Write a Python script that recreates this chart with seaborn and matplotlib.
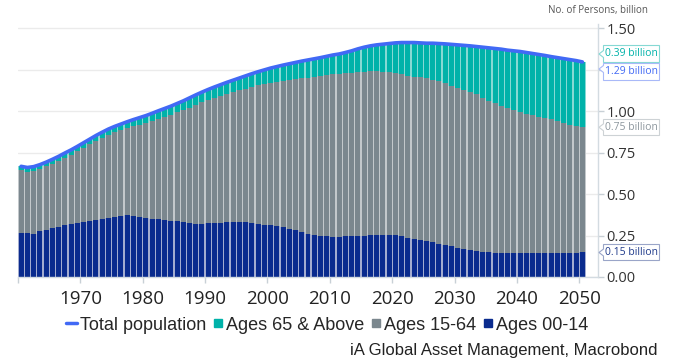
import matplotlib
matplotlib.use("Agg")
import matplotlib.pyplot as plt
import numpy as np
import pandas as pd
import seaborn as sns
from matplotlib.lines import Line2D
from matplotlib.patches import Polygon
from matplotlib.font_manager import FontProperties

# ---------------- data (billion persons) ----------------
years = list(range(1960, 2051))

ages_00_14 = [
    0.268, 0.263, 0.262, 0.276, 0.286, 0.294, 0.304, 0.312, 0.318, 0.326,
    0.334, 0.340, 0.346, 0.351, 0.355, 0.360, 0.367, 0.373, 0.371, 0.365,
    0.357, 0.352, 0.348, 0.345, 0.341, 0.336, 0.330, 0.326, 0.322, 0.322,
    0.323, 0.325, 0.328, 0.331, 0.332, 0.331, 0.329, 0.325, 0.320, 0.316,
    0.312, 0.307, 0.300, 0.291, 0.281, 0.270, 0.260, 0.253, 0.249, 0.246,
    0.244, 0.244, 0.246, 0.248, 0.250, 0.250, 0.252, 0.254, 0.256, 0.256,
    0.252, 0.246, 0.238, 0.231, 0.225, 0.219, 0.209, 0.201, 0.195, 0.185,
    0.177, 0.169, 0.163, 0.157, 0.153, 0.149, 0.147, 0.147, 0.147, 0.147,
    0.147, 0.147, 0.147, 0.147, 0.147, 0.147, 0.147, 0.147, 0.147, 0.147,
    0.148,
]

ages_15_64 = [
    0.375, 0.373, 0.379, 0.377, 0.382, 0.390, 0.398, 0.409, 0.421, 0.433,
    0.446, 0.461, 0.476, 0.490, 0.503, 0.513, 0.518, 0.525, 0.538, 0.554,
    0.572, 0.590, 0.607, 0.622, 0.638, 0.657, 0.677, 0.697, 0.717, 0.732,
    0.745, 0.756, 0.765, 0.774, 0.784, 0.795, 0.808, 0.822, 0.836, 0.848,
    0.860, 0.871, 0.884, 0.898, 0.913, 0.929, 0.943, 0.954, 0.963, 0.972,
    0.980, 0.983, 0.984, 0.986, 0.988, 0.990, 0.990, 0.988, 0.984, 0.982,
    0.982, 0.980, 0.978, 0.979, 0.981, 0.981, 0.983, 0.981, 0.974, 0.968,
    0.962, 0.958, 0.952, 0.946, 0.930, 0.916, 0.902, 0.886, 0.870, 0.858,
    0.848, 0.838, 0.829, 0.821, 0.813, 0.805, 0.795, 0.783, 0.773, 0.763,
    0.756,
]

ages_65_up = [
    0.025, 0.025, 0.025, 0.025, 0.025, 0.026, 0.026, 0.027, 0.028, 0.029,
    0.030, 0.031, 0.032, 0.033, 0.035, 0.036, 0.038, 0.039, 0.041, 0.043,
    0.045, 0.046, 0.048, 0.050, 0.052, 0.054, 0.056, 0.058, 0.060, 0.062,
    0.064, 0.066, 0.068, 0.070, 0.072, 0.075, 0.077, 0.080, 0.083, 0.086,
    0.089, 0.092, 0.095, 0.098, 0.101, 0.104, 0.107, 0.110, 0.112, 0.114,
    0.116, 0.119, 0.125, 0.131, 0.139, 0.147, 0.153, 0.159, 0.165, 0.171,
    0.179, 0.189, 0.199, 0.205, 0.207, 0.211, 0.219, 0.227, 0.238, 0.251,
    0.262, 0.271, 0.280, 0.288, 0.304, 0.318, 0.330, 0.342, 0.352, 0.360,
    0.366, 0.370, 0.373, 0.375, 0.377, 0.378, 0.382, 0.388, 0.392, 0.396,
    0.394,
]

series_names = ["Total population", "Ages 65 & Above", "Ages 15-64", "Ages 00-14"]
xtick_years = [1960, 1970, 1980, 1990, 2000, 2010, 2020, 2030, 2040, 2050]
xtick_labels = ["", "1970", "1980", "1990", "2000", "2010", "2020", "2030", "2040", "2050"]
ytick_values = [0.0, 0.25, 0.50, 0.75, 1.00, 1.25, 1.50]
ytick_labels = ["0.00", "0.25", "0.50", "0.75", "1.00", "", "1.50"]  # 1.25 hidden by callouts
end_labels = ["0.39 billion", "1.29 billion", "0.75 billion", "0.15 billion"]
y_title = "No. of Persons, billion"
source_text = "iA Global Asset Management, Macrobond"

# ---------------- styling ----------------
C_TEAL, C_GRAY, C_NAVY, C_BLUE = "#00b2a9", "#7b878e", "#0a2b8e", "#4169f5"
L_TEAL, L_GRAY, L_NAVY = "#86d9d4", "#c3c8cb", "#a3acd0"

sns.set_theme(style="white")
plt.rcParams["font.family"] = ["Open Sans", "DejaVu Sans"]

W, H = 673, 360
fig = plt.figure(figsize=(W / 100, H / 100), dpi=100)
ax = fig.add_axes([18 / W, (H - 277) / H, (598 - 18) / W, (277 - 23.5) / H])

df = pd.DataFrame({
    "year": years,
    "a0014": ages_00_14,
    "a1564": ages_15_64,
    "a65": ages_65_up,
})
df["xmid"] = df["year"] + 0.5
df["cum1"] = df["a0014"]
df["cum2"] = df["a0014"] + df["a1564"]
df["cum3"] = df["cum2"] + df["a65"]
df["total"] = df["cum3"]

common = dict(data=df, x="xmid", native_scale=True, orient="x",
              saturation=1, errorbar=None, ax=ax, linewidth=0)
# light backdrop (visible in the gaps between bars)
for col, c in (("cum3", L_TEAL), ("cum2", L_GRAY), ("cum1", L_NAVY)):
    sns.barplot(y=col, color=c, width=1.0, **common)
# solid bars
for col, c in (("cum3", C_TEAL), ("cum2", C_GRAY), ("cum1", C_NAVY)):
    sns.barplot(y=col, color=c, width=0.8, **common)

sns.lineplot(data=df, x="xmid", y="total", color=C_BLUE, linewidth=2.6,
             ax=ax, zorder=6, solid_capstyle="round")

ax.set_xlim(1960, 2053)
ax.set_ylim(0, 1.53)
ax.set_xticks(xtick_years)
ax.set_xticklabels(xtick_labels)
ax.yaxis.tick_right()
ax.set_yticks(ytick_values)
ax.set_yticklabels(ytick_labels)
ax.set_xlabel("")
ax.set_ylabel("")
ax.grid(axis="y", color="#ebebeb", linewidth=1)
ax.grid(axis="x", visible=False)
ax.set_axisbelow(True)
for s in ("top", "left"):
    ax.spines[s].set_visible(False)
for s in ("right", "bottom"):
    ax.spines[s].set_color("#d3dbe1")
    ax.spines[s].set_linewidth(1)
ax.tick_params(axis="x", length=4, width=1, color="#c8d0d6", labelsize=13.5,
               pad=5, labelcolor="#222222", bottom=True)
ax.tick_params(axis="y", length=4, width=1, color="#c8d0d6", labelsize=10.5,
               pad=2, labelcolor="#333333", right=True, left=False)

# axis title on top right
fig.text(598 / W, 1 - 11 / H, y_title, ha="center", va="center",
         fontsize=7, color="#555555")

# legend
handles = [
    Line2D([0], [0], color=C_BLUE, lw=2.5),
    Line2D([], [], marker="s", ls="", color=C_TEAL, markersize=6),
    Line2D([], [], marker="s", ls="", color=C_GRAY, markersize=6),
    Line2D([], [], marker="s", ls="", color=C_NAVY, markersize=6),
]
fig.legend(handles, series_names, loc="center", bbox_to_anchor=(327 / W, 1 - 325 / H),
           ncol=4, frameon=False, prop=FontProperties(family="Liberation Sans", size=13),
           handlelength=0.6, handletextpad=0.15, columnspacing=0.35, borderpad=0)

fig.text(658 / W, 1 - 350 / H, source_text, ha="right", va="center",
         fontsize=12, color="#222222", family="Liberation Sans")

# end-of-series callouts (positions in figure pixels)
def P(x, y):
    return (x / W, 1 - y / H)

callouts = [
    (end_labels[0], 45.5, 62.5, 54.0, C_TEAL, "#86d9d4"),
    (end_labels[1], 63.5, 80.5, 69.0, C_BLUE, "#a9b9f8"),
    (end_labels[2], 119.5, 135.5, 127.3, "#8c969d", "#cdd2d5"),
    (end_labels[3], 244.5, 260.5, 252.5, "#1f3a8a", "#9aa5c8"),
]
for txt, top, bot, tip, tc, ec in callouts:
    x0, x1 = 603.5, 659.5
    pts = [P(x0, top), P(x1, top), P(x1, bot), P(x0, bot),
           P(x0, tip + 3.5), P(x0 - 4.5, tip), P(x0, tip - 3.5)]
    fig.patches.append(Polygon(pts, closed=True, transform=fig.transFigure,
                               facecolor="white", edgecolor=ec, linewidth=0.8,
                               zorder=3))
    fig.text((x0 + x1) / 2 / W, 1 - (top + bot) / 2 / H, txt, ha="center",
             va="center", fontsize=7.5, color=tc, zorder=4)

fig.savefig("out.png", dpi=100)
